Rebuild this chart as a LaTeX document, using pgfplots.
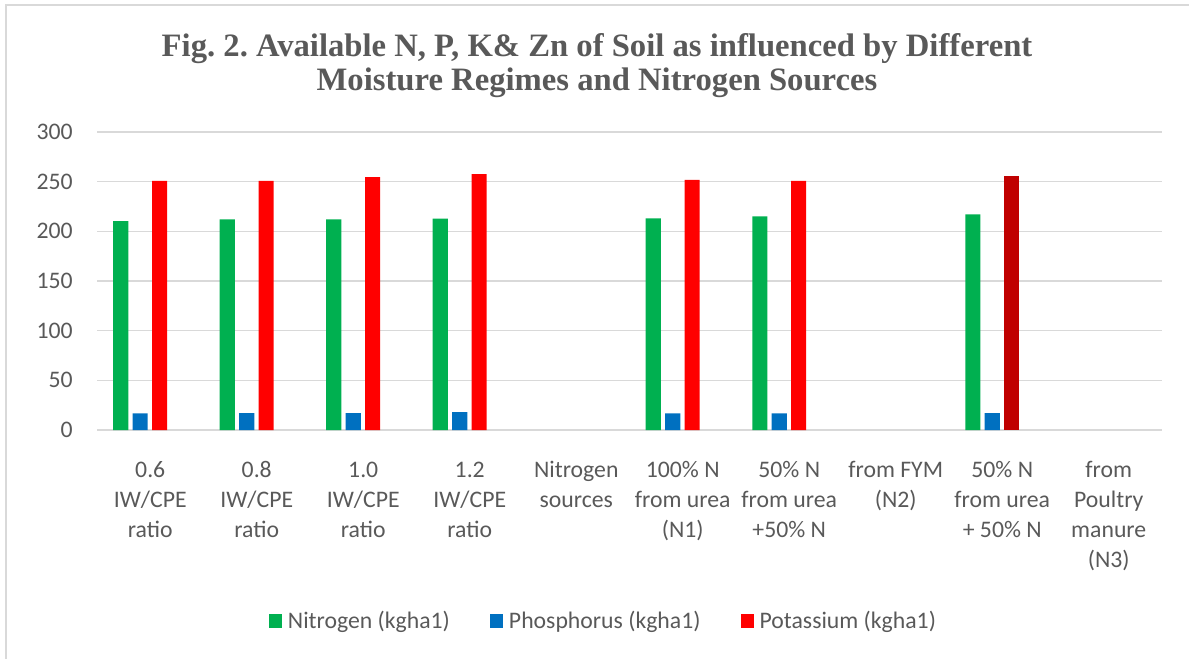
\documentclass[border=0pt]{standalone}
\usepackage{pgfplots}
\pgfplotsset{compat=1.18}
\usepackage{fontspec}
\setmainfont{Carlito}
\newfontfamily\titlefont{Liberation Serif}
\definecolor{txt}{HTML}{595959}
\definecolor{gridc}{HTML}{D9D9D9}
\definecolor{cN}{HTML}{00B050}
\definecolor{cP}{HTML}{0070C0}
\definecolor{cK}{HTML}{FF0000}
\definecolor{cKd}{HTML}{C00000}
\newcommand{\s}{\rule{0pt}{14pt}}
\frenchspacing
\begin{document}
\begin{tikzpicture}
\useasboundingbox (0,0) rectangle (891.75pt,493.5pt);
\draw[gridc, line width=1pt] (4.5pt,-5pt) -- (4.5pt,489.75pt) -- (900pt,489.75pt);
\node[font=\titlefont\bfseries\fontsize{24.5}{30}\selectfont, text=txt, anchor=base] at (447.75pt,451pt) {Fig. 2. Available N, P, K\& Zn of Soil as influenced by Different};
\node[font=\titlefont\bfseries\fontsize{24.5}{30}\selectfont, text=txt, anchor=base] at (447.75pt,425.5pt) {Moisture Regimes and Nitrogen Sources};
\begin{axis}[
  at={(72.75pt,171pt)}, anchor=south west,
  scale only axis, width=798.75pt, height=223.5pt,
  xmin=-0.5, xmax=9.5, ymin=0, ymax=300,
  ybar,
  ytick={0,50,...,300},
  xtick={0,...,9},
  xticklabels={
    {\s 0.6\\IW/CPE\\ratio},
    {\s 0.8\\IW/CPE\\ratio},
    {\s 1.0\\IW/CPE\\ratio},
    {\s 1.2\\IW/CPE\\ratio},
    {\s Nitrogen\\sources},
    {\s 100\% N\\from urea\\(N1)},
    {\s 50\% N\\from urea\\+50\% N},
    {\s from FYM\\(N2)},
    {\s 50\% N\\from urea\\+ 50\% N},
    {\s from\\Poultry\\manure\\(N3)}},
  axis line style={draw=none},
  tick style={draw=none},
  ymajorgrids,
  major grid style={gridc, line width=0.9pt},
  /pgf/number format/assume math mode=true,
  yticklabel style={anchor=east, inner sep=0pt, xshift=-18pt, font=\fontsize{17.8}{22}\selectfont, text=txt},
  xticklabel style={anchor=north, align=center, inner sep=0pt, yshift=-17.5pt, font=\fontsize{17.8}{22.3}\selectfont, text=txt},
  bar width=0.141,
  legend columns=3,
  legend image code/.code={\fill[#1,draw=none] (0pt,-5pt) rectangle (10pt,5pt);},
  legend style={at={(0.4746,-0.641)}, anchor=center, draw=none, fill=none,
    font=\fontsize{17.8}{22}\selectfont, text=txt,
    nodes={inner sep=0pt},
    /tikz/every odd column/.append style={column sep=4.3pt},
    /tikz/every even column/.append style={column sep=30pt}},
]
\addplot[fill=cN, draw=none, bar shift=-0.277] coordinates {(0,210.4) (1,212.1) (2,212.1) (3,212.8) (5,213.1) (6,215.1) (8,217.1)};
\addlegendentry{Nitrogen (kgha1)}
\addplot[fill=cP, draw=none, bar shift=-0.094] coordinates {(0,16.8) (1,17.1) (2,17.1) (3,18.1) (5,16.8) (6,16.8) (8,17.1)};
\addlegendentry{Phosphorus (kgha1)}
\addplot[fill=cK, draw=none, bar shift=0.089] coordinates {(0,250.7) (1,250.7) (2,254.7) (3,257.7) (5,251.7) (6,250.7)};
\addlegendentry{Potassium (kgha1)}
\addplot[fill=cKd, draw=none, bar shift=0.089, forget plot] coordinates {(8,255.7)};
\end{axis}
\end{tikzpicture}
\end{document}
